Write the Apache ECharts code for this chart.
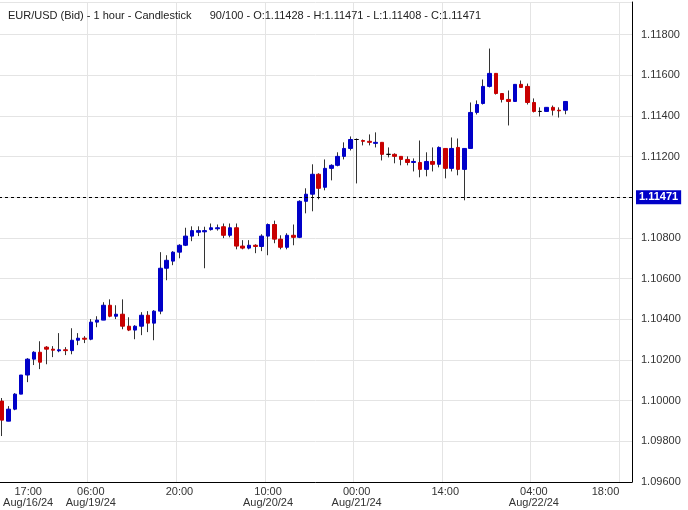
<!DOCTYPE html>
<html>
<head>
<meta charset="utf-8">
<script src="https://cdn.jsdelivr.net/npm/echarts@6/dist/echarts.min.js"></script>
<style>
html,body{margin:0;padding:0;background:#fff;}
#chart{width:688px;height:510px;}
</style>
</head>
<body>
<div id="chart"></div>
<script>
// hourly candles, [open, close, low, high]
var candles = [
  [1.09998,1.09904,1.09826,1.10013],[1.09899,1.09958,1.09899,1.09973],[1.09958,1.10032,1.09953,1.10037],
  [1.10032,1.10126,1.10032,1.10126],[1.10126,1.10204,1.10091,1.10209],[1.10204,1.10238,1.10175,1.10243],
  [1.10238,1.10189,1.10155,1.10292],[1.10263,1.10253,1.10179,1.10268],[1.10253,1.10248,1.10214,1.10268],
  [1.10245,1.10250,1.10238,1.10332],[1.10250,1.10246,1.10224,1.10263],[1.10246,1.10297,1.10228,1.10356],
  [1.10297,1.10307,1.10273,1.10332],[1.10307,1.10302,1.10283,1.10317],[1.10302,1.10386,1.10297,1.10401],
  [1.10386,1.10396,1.10361,1.10415],[1.10396,1.10469,1.10396,1.10484],[1.10469,1.10415,1.10410,1.10498],
  [1.10415,1.10425,1.10401,1.10469],[1.10425,1.10366,1.10351,1.10498],[1.10366,1.10347,1.10342,1.10410],
  [1.10347,1.10366,1.10302,1.10371],[1.10366,1.10420,1.10322,1.10435],[1.10420,1.10381,1.10337,1.10440],
  [1.10381,1.10440,1.10297,1.10445],[1.10440,1.10651,1.10425,1.10730],[1.10651,1.10690,1.10592,1.10715],
  [1.10686,1.10730,1.10666,1.10735],[1.10730,1.10764,1.10700,1.10769],[1.10764,1.10809,1.10760,1.10850],
  [1.10809,1.10836,1.10784,1.10857],[1.10828,1.10836,1.10809,1.10857],[1.10830,1.10836,1.10651,1.10855],
  [1.10841,1.10850,1.10836,1.10871],[1.10845,1.10850,1.10836,1.10866],[1.10855,1.10813,1.10799,1.10871],
  [1.10813,1.10850,1.10803,1.10871],[1.10850,1.10760,1.10744,1.10871],[1.10760,1.10750,1.10744,1.10789],
  [1.10750,1.10764,1.10744,1.10789],[1.10764,1.10758,1.10725,1.10769],[1.10758,1.10809,1.10735,1.10818],
  [1.10809,1.10866,1.10715,1.10871],[1.10866,1.10794,1.10774,1.10885],[1.10794,1.10754,1.10744,1.10813],
  [1.10754,1.10813,1.10744,1.10823],[1.10813,1.10803,1.10764,1.10866],[1.10803,1.10980,1.10799,1.10985],
  [1.10980,1.11015,1.10921,1.11044],[1.11015,1.11113,1.10931,1.11162],[1.11113,1.11044,1.10990,1.11118],
  [1.11049,1.11142,1.11034,1.11186],[1.11142,1.11157,1.11083,1.11162],[1.11157,1.11201,1.11152,1.11221],
  [1.11201,1.11240,1.11186,1.11270],[1.11240,1.11284,1.11230,1.11299],[1.11284,1.11284,1.11068,1.11289],
  [1.11279,1.11275,1.11255,1.11284],[1.11275,1.11270,1.11255,1.11309],[1.11265,1.11270,1.11245,1.11319],
  [1.11270,1.11211,1.11181,1.11270],[1.11211,1.11211,1.11196,1.11245],[1.11211,1.11201,1.11167,1.11216],
  [1.11201,1.11186,1.11157,1.11201],[1.11186,1.11171,1.11157,1.11201],[1.11171,1.11176,1.11127,1.11191],
  [1.11171,1.11137,1.11098,1.11279],[1.11137,1.11176,1.11103,1.11221],[1.11176,1.11162,1.11127,1.11245],
  [1.11162,1.11245,1.11147,1.11250],[1.11240,1.11142,1.11093,1.11240],[1.11142,1.11240,1.11127,1.11294],
  [1.11245,1.11137,1.11108,1.11289],[1.11137,1.11240,1.10985,1.11240],[1.11240,1.11417,1.11240,1.11466],
  [1.11417,1.11456,1.11407,1.11476],[1.11461,1.11545,1.11456,1.11579],[1.11545,1.11609,1.11540,1.11731],
  [1.11609,1.11510,1.11505,1.11609],[1.11510,1.11481,1.11466,1.11510],[1.11481,1.11471,1.11353,1.11525],
  [1.11471,1.11555,1.11471,1.11555],[1.11555,1.11540,1.11540,1.11574],[1.11545,1.11466,1.11456,1.11559],
  [1.11466,1.11422,1.11417,1.11486],[1.11422,1.11422,1.11397,1.11442],[1.11422,1.11442,1.11422,1.11442],
  [1.11442,1.11428,1.11402,1.11451],[1.11428,1.11425,1.11392,1.11442],[1.11428,1.11471,1.11408,1.11471]
];
var totalSlots = 100;
var lastPrice = 1.11471;
var tickIdx  = [0, 14, 28, 42, 56, 70, 84, 98];
var tickTime = ['17:00','06:00','20:00','10:00','00:00','14:00','04:00','18:00'];
var tickDate = ['Aug/16/24','Aug/19/24','','Aug/20/24','Aug/21/24','','Aug/22/24',''];

var UP = '#0000c8', DOWN = '#c80000', WICK = '#333333';

var cats = [];
for (var i = 0; i < totalSlots; i++) cats.push(String(i));

var wickData = candles.map(function (c) { return c; });
var bodyData = candles.map(function (c) {
    var lo = Math.min(c[0], c[1]), hi = Math.max(c[0], c[1]);
    var item = {value: [c[0], c[1], lo, hi]};
    if (c[0] === c[1]) item.itemStyle = {color: '#000', borderColor: '#000', color0: '#000', borderColor0: '#000'};
    return item;
});

var chart = echarts.init(document.getElementById('chart'), null, {renderer: 'canvas'});
var font = "'Liberation Sans', Arial, sans-serif";

chart.setOption({
    animation: false,
    textStyle: {fontFamily: font},
    title: {
        text: 'EUR/USD (Bid) - 1 hour - Candlestick      90/100 - O:1.11428 - H:1.11471 - L:1.11408 - C:1.11471',
        left: 3, top: 5,
        textStyle: {fontSize: 11, fontWeight: 'normal', color: '#222', fontFamily: font}
    },
    grid: {left: -1, right: 56, top: 2, bottom: 28, containLabel: false, outerBoundsMode: 'none'},
    xAxis: {
        type: 'category',
        data: cats,
        boundaryGap: true,
        axisLine: {show: true, lineStyle: {color: '#000', width: 1}},
        axisTick: {show: false},
        splitLine: {
            show: true,
            interval: function (idx) { return tickIdx.indexOf(idx) >= 0; },
            lineStyle: {color: '#e4e4e4'}
        },
        axisLabel: {
            interval: function (idx) { return tickIdx.indexOf(idx) >= 0; },
            margin: 4,
            fontSize: 11,
            color: '#333',
            lineHeight: 11,
            hideOverlap: false,
            formatter: function (v) {
                var k = tickIdx.indexOf(Number(v));
                if (k < 0) return '';
                var st = k === 0 ? 'f' : (k === tickIdx.length - 1 ? 'l' : 'n');
                var s = '{' + st + '|' + tickTime[k] + '}';
                if (tickDate[k]) s += '\n{' + st + '|' + tickDate[k] + '}';
                return s;
            },
            rich: {
                n: {fontSize: 11, color: '#333', lineHeight: 11},
                f: {fontSize: 11, color: '#333', lineHeight: 11, padding: [0, 0, 0, 52]},
                l: {fontSize: 11, color: '#333', lineHeight: 11, padding: [0, 34, 0, 0]}
            }
        }
    },
    yAxis: {
        type: 'value',
        position: 'right',
        min: 1.096,
        max: 1.1196,
        interval: 0.002,
        axisLine: {show: true, lineStyle: {color: '#000'}},
        axisTick: {show: false},
        splitLine: {lineStyle: {color: '#e4e4e4'}},
        axisLabel: {
            margin: 9, fontSize: 11, color: '#333', showMaxLabel: false,
            formatter: function (v) { return v.toFixed(5); }
        }
    },
    series: [{
        name: 'wick',
        type: 'candlestick',
        data: wickData,
        barWidth: 1,
        itemStyle: {color: WICK, color0: WICK, borderColor: WICK, borderColor0: WICK, borderWidth: 1}
    }, {
        name: 'body',
        type: 'candlestick',
        data: bodyData,
        barWidth: 4,
        itemStyle: {color: UP, color0: DOWN, borderColor: UP, borderColor0: DOWN, borderWidth: 1}
    }, {
        name: 'last',
        type: 'line',
        data: [],
        markLine: {
            silent: true,
            symbol: ['none', 'none'],
            lineStyle: {color: '#000', type: [3, 3], width: 1},
            label: {
                position: 'end',
                distance: 4,
                formatter: lastPrice.toFixed(5),
                backgroundColor: '#0000c8',
                color: '#fff',
                fontWeight: 'bold',
                fontSize: 11,
                padding: [2, 3, 1, 3]
            },
            data: [{yAxis: lastPrice}]
        }
    }]
});
</script>
</body>
</html>
